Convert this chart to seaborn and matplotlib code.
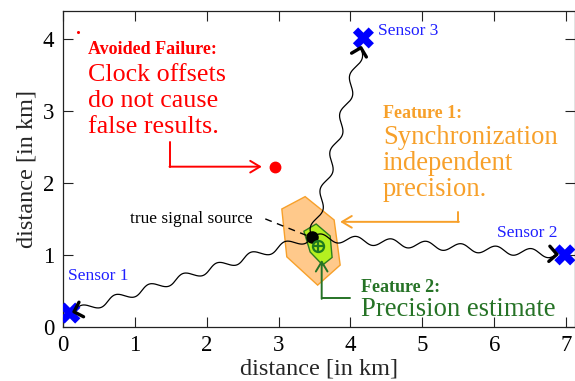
import numpy as np
import pandas as pd
import matplotlib
matplotlib.use("Agg")
import matplotlib.pyplot as plt
import seaborn as sns

# ---------------- data ----------------
sensor_names = ["Sensor 1", "Sensor 2", "Sensor 3"]
sensor_x = [0.10, 6.98, 4.18]
sensor_y = [0.19, 1.00, 4.02]
sensor_label_x = [0.08, 6.03, 4.38]
sensor_label_y = [0.70, 1.30, 4.11]
arrow_gap = [0.06, 0.11, 0.14]

source_x, source_y = 3.463, 1.245          # true signal source
estimate_x, estimate_y = 3.555, 1.124      # precision estimate
failure_x, failure_y = 2.95, 2.23          # false result (avoided failure)

orange_poly_x = [3.046, 3.370, 3.773, 3.857, 3.544, 3.115]
orange_poly_y = [1.639, 1.811, 1.486, 0.858, 0.579, 0.973]
green_poly_x = [3.523, 3.718, 3.745, 3.613, 3.440, 3.353]
green_poly_y = [1.430, 1.263, 0.964, 0.859, 1.040, 1.329]

x_ticks = [0, 1, 2, 3, 4, 5, 6, 7]
y_ticks = [0, 1, 2, 3, 4]

RED = "#ff0000"
ORANGE = "#f7a02a"
GREEN = "#267326"
BLUE = "#0000ff"

sns.set_theme(style="ticks")
plt.rcParams["font.family"] = ["Liberation Serif", "DejaVu Serif"]

fig = plt.figure(figsize=(5.75, 3.81), dpi=100)
ax = fig.add_axes([0.109, 0.1425, 0.8915, 0.8295])
ax.set_xlim(0, 7.125)
ax.set_ylim(0, 4.40)


def wavy(p0, p1, wavelength=0.52, amp=0.055, n=600):
    p0 = np.asarray(p0, float)
    p1 = np.asarray(p1, float)
    d = p1 - p0
    L = np.hypot(*d)
    u = d / L
    nrm = np.array([-u[1], u[0]])
    k = max(1, round(L / wavelength))
    t = np.linspace(0, L, n)
    off = amp * np.sin(2 * np.pi * k * t / L)
    pts = p0 + np.outer(t, u) + np.outer(off, nrm)
    return pts


def chevron(tip, back, arm=0.15, half_angle=45):
    """Open arrow head at `tip`, arms going back along unit vector `back`."""
    a = np.deg2rad(half_angle)
    nrm = np.array([-back[1], back[0]])
    p1 = tip + arm * (np.cos(a) * back + np.sin(a) * nrm)
    p2 = tip + arm * (np.cos(a) * back - np.sin(a) * nrm)
    return np.array([p1, tip, p2])


# polygons
ax.fill(orange_poly_x, orange_poly_y, facecolor="#ffc98b", edgecolor=ORANGE,
        lw=1.0, zorder=2)
ax.fill(green_poly_x, green_poly_y, facecolor="#b5f020", edgecolor="#2e7d1e",
        lw=1.0, zorder=3)

# sensors
sens = pd.DataFrame({"x": sensor_x, "y": sensor_y, "name": sensor_names})
sns.scatterplot(data=sens, x="x", y="y", marker="X", s=230, color=BLUE,
                edgecolor="none", ax=ax, zorder=6, legend=False)
for name, lx, ly in zip(sensor_names, sensor_label_x, sensor_label_y):
    ax.text(lx, ly, name, color="#2020ff", fontsize=12.5, ha="left",
            va="center", zorder=7)

# wavy signal paths with arrowheads
for sx, sy, gap in zip(sensor_x, sensor_y, arrow_gap):
    s = np.array([sx, sy])
    src = np.array([source_x, source_y])
    u = (src - s) / np.hypot(*(src - s))
    end = s + gap * u
    pts = wavy(src, end)
    df = pd.DataFrame({"x": pts[:, 0], "y": pts[:, 1]})
    sns.lineplot(data=df, x="x", y="y", sort=False, estimator=None,
                 color="black", lw=0.9, ax=ax, zorder=4)
    head = chevron(end, u)
    ax.plot(head[:, 0], head[:, 1], color="black", lw=2.4,
            solid_capstyle="round", solid_joinstyle="round", zorder=9)

# true source & estimate
ax.plot([source_x], [source_y], "o", color="black", ms=8, zorder=8)
ax.plot([estimate_x], [estimate_y], "o", mfc="none", mec="#1e7a1e", mew=1.6,
        ms=8, zorder=8)
ax.plot([estimate_x], [estimate_y], "+", color="#1e7a1e", mew=1.6, ms=7,
        zorder=8)

# true signal source label with dashed leader
ax.text(2.647, 1.50, "true signal source", fontsize=12.5, ha="right",
        va="center", color="black")
ax.plot([2.816, 3.412], [1.501, 1.262], color="black", lw=1.0,
        dashes=(5, 4), zorder=4)

# Avoided failure
ax.plot([failure_x], [failure_y], "o", color=RED, ms=7.5, zorder=8)
ax.plot([0.217], [4.10], "o", color=RED, ms=1.2)
ax.plot([1.492, 1.492], [2.576, 2.228], color=RED, lw=1.4)
ax.annotate("", xy=(2.768, 2.228), xytext=(1.485, 2.228),
            arrowprops=dict(arrowstyle="->,head_length=0.5,head_width=0.3",
                            color=RED, lw=1.4, mutation_scale=14,
                            shrinkA=0, shrinkB=0))
ax.text(0.356, 3.863, "Avoided Failure:", color=RED, fontsize=13,
        fontweight="bold", ha="left", va="center")
for i, line in enumerate(["Clock offsets", "do not cause", "false results."]):
    ax.text(0.356, 3.51 - 0.362 * i, line, color=RED, fontsize=18.7,
            ha="left", va="center")

# Feature 1
ax.plot([5.50, 5.50], [1.60, 1.46], color=ORANGE, lw=1.4)
ax.annotate("", xy=(3.857, 1.46), xytext=(5.507, 1.46),
            arrowprops=dict(arrowstyle="->,head_length=0.5,head_width=0.3",
                            color=ORANGE, lw=1.4, mutation_scale=14,
                            shrinkA=0, shrinkB=0))
ax.text(4.45, 2.97, "Feature 1:", color=ORANGE, fontsize=13,
        fontweight="bold", ha="left", va="center")
for i, line in enumerate(["Synchronization", "independent", "precision."]):
    ax.text(4.45, 2.636 - 0.366 * i, line, color=ORANGE, fontsize=19.2,
            ha="left", va="center")

# Feature 2
ax.plot([4.0, 3.60], [0.395, 0.395], color=GREEN, lw=1.4)
ax.annotate("", xy=(3.60, 0.93), xytext=(3.60, 0.388),
            arrowprops=dict(arrowstyle="->,head_length=0.5,head_width=0.3",
                            color=GREEN, lw=1.4, mutation_scale=14,
                            shrinkA=0, shrinkB=0))
ax.text(4.145, 0.549, "Feature 2:", color=GREEN, fontsize=13,
        fontweight="bold", ha="left", va="center")
ax.text(4.145, 0.233, "Precision estimate", color=GREEN, fontsize=19.2,
        ha="left", va="center")

# axes styling
ax.set_xticks(x_ticks)
ax.set_yticks(y_ticks)
ax.tick_params(direction="in", top=True, right=True, length=7, width=0.8,
               labelsize=16.5, pad=6, colors="#222222", labelcolor="black")
for sp in ax.spines.values():
    sp.set_linewidth(0.9)
    sp.set_color("#222222")
ax.set_xlabel("distance [in km]", fontsize=17.5, labelpad=2)
ax.set_ylabel("distance [in km]", fontsize=17.5, labelpad=4)

fig.savefig("out.png", dpi=100)
